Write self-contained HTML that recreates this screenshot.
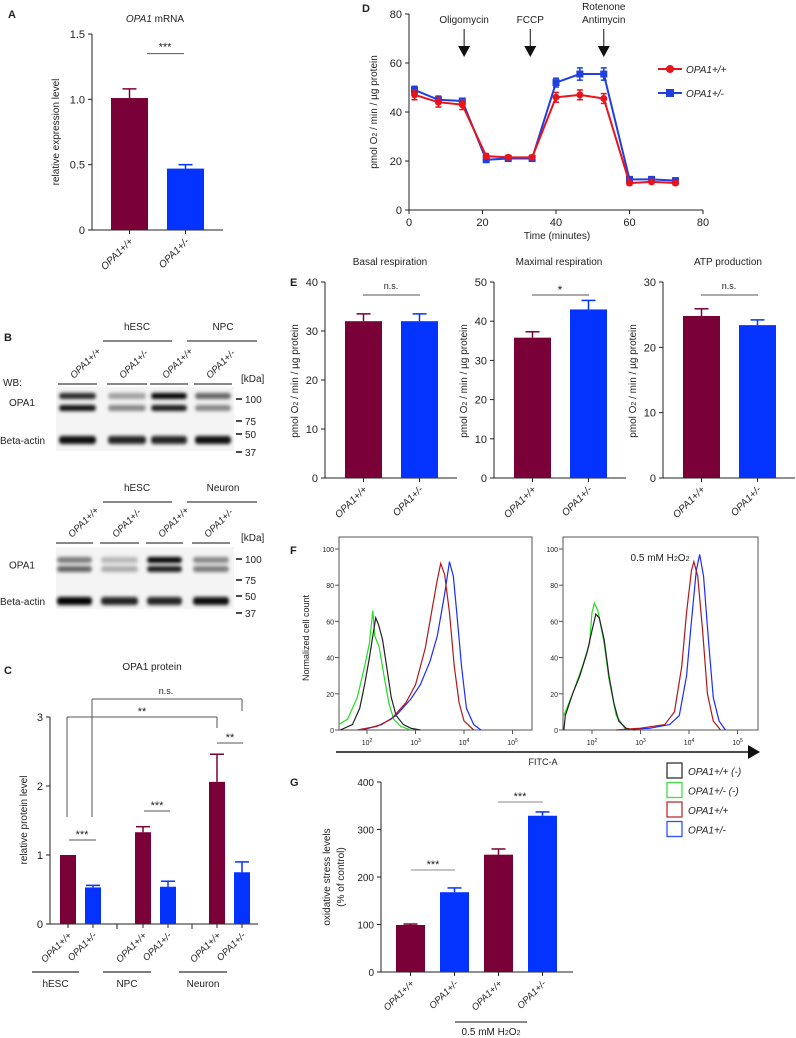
<!DOCTYPE html>
<html><head><meta charset="utf-8">
<style>
html,body{margin:0;padding:0;background:#fff;}
svg{display:block;font-family:"Liberation Sans",Arial,sans-serif;}
</style></head>
<body>
<svg id="fig" width="796" height="1038" viewBox="0 0 796 1038" xmlns="http://www.w3.org/2000/svg">
<defs>
<filter id="blur" x="-20%" y="-100%" width="140%" height="300%"><feGaussianBlur stdDeviation="1.6 1.8"/></filter>
</defs>
</svg>
<script>
// ===== DATA =====
const genoLabels = ['OPA1+/+','OPA1+/-'];
const aValues = [1.01, 0.47];
const aErrors = [0.07, 0.03];
const aTicks = [0, 0.5, 1.0, 1.5];
const aTickLabels = ['0','0.5','1.0','1.5'];

const dTime = [1.5, 8, 14.5, 21, 27, 33.5, 40, 46.5, 53, 60, 66, 72.5];
const dWT = [47, 44, 43, 22, 21.5, 21.5, 46, 47, 45.5, 11, 11.5, 11];
const dWTerr = [2, 2, 2, 1, 0.8, 0.8, 2, 2, 2, 0.8, 0.8, 0.8];
const dHet = [49, 45, 44.5, 20.5, 21, 21, 52, 55.5, 55.5, 12.5, 12.5, 12];
const dHetErr = [1.5, 1.5, 1, 1, 0.8, 0.8, 1.8, 2.5, 2.5, 0.8, 0.8, 0.8];
const dXTicks = [0, 20, 40, 60, 80];
const dYTicks = [0, 20, 40, 60, 80];

const eTitles = ['Basal respiration','Maximal respiration','ATP production'];
const eValues = [[32, 32], [35.8, 43], [24.8, 23.4]];
const eErrors = [[1.5, 1.5], [1.5, 2.3], [1.1, 0.8]];
const eMax = [40, 50, 30];
const eSig = ['n.s.', '*', 'n.s.'];

const cValues = [1.0, 0.53, 1.33, 0.54, 2.06, 0.75];
const cErrors = [0, 0.03, 0.08, 0.08, 0.40, 0.15];
const cGroups = ['hESC','NPC','Neuron'];
const cTicks = [0, 1, 2, 3];

const gValues = [99, 168, 247, 329];
const gErrors = [2, 9, 12, 8];
const gTicks = [0, 100, 200, 300, 400];

// flow cytometry histograms: [log10(FITC), normalized count]
const fLeftBlack = [[1.45,0],[1.7,3],[1.85,12],[1.95,25],[2.05,40],[2.12,52],[2.18,62],[2.24,58],[2.32,50],[2.4,36],[2.5,18],[2.6,8],[2.75,3],[2.9,1],[3.1,0]];
const fLeftGreen = [[1.42,3],[1.6,6],[1.8,18],[1.95,35],[2.05,48],[2.12,66],[2.16,52],[2.25,46],[2.35,30],[2.45,15],[2.55,6],[2.7,2],[2.9,0]];
const fLeftRed = [[1.8,0],[2.2,2],[2.5,6],[2.8,15],[3.0,25],[3.2,45],[3.35,68],[3.45,83],[3.52,92],[3.6,86],[3.7,65],[3.8,35],[3.9,15],[4.0,5],[4.2,0]];
const fLeftBlue = [[1.9,0],[2.3,3],[2.6,8],[2.9,17],[3.1,25],[3.3,38],[3.45,52],[3.6,75],[3.7,93],[3.78,85],[3.85,65],[3.95,35],[4.05,12],[4.2,3],[4.35,0]];
const fRightBlack = [[1.42,0],[1.45,8],[1.6,20],[1.75,30],[1.9,43],[2.0,55],[2.08,64],[2.15,62],[2.25,50],[2.35,30],[2.45,15],[2.55,5],[2.7,1],[2.9,0]];
const fRightGreen = [[1.42,8],[1.6,20],[1.8,35],[1.95,48],[2.0,65],[2.05,70],[2.12,66],[2.25,48],[2.35,28],[2.5,8],[2.7,0]];
const fRightRed = [[2.5,0],[3.0,1],[3.5,3],[3.7,10],[3.85,35],[3.95,65],[4.05,88],[4.1,93],[4.18,85],[4.28,55],[4.38,20],[4.5,5],[4.65,0]];
const fRightBlue = [[2.6,0],[3.2,1],[3.6,3],[3.8,8],[3.95,30],[4.05,60],[4.15,88],[4.22,97],[4.3,85],[4.4,50],[4.5,18],[4.62,5],[4.75,0]];
const fYTicks = [0, 20, 40, 60, 80, 100];
const fXDecades = [2, 3, 4, 5];

// western blot band intensities (0..1) per lane
const wb1Upper = [0.85, 0.35, 1.0, 0.6];
const wb1Lower = [0.95, 0.45, 0.9, 0.45];
const wb1Actin = [0.95, 0.85, 0.85, 0.95];
const wb2Upper = [0.5, 0.25, 1.0, 0.45];
const wb2Lower = [0.6, 0.3, 0.9, 0.5];
const wb2Actin = [1.0, 0.85, 0.85, 0.95];

const MAROON = '#7a0038', BLUE = '#0433ff', RED = '#e8141c', DBLUE = '#1f3fe0';
const svg = document.getElementById('fig');
const NS = 'http://www.w3.org/2000/svg';

function mk(tag, attrs, name, parent) {
  const el = document.createElementNS(NS, tag);
  for (const k in attrs) el.setAttribute(k, attrs[k]);
  
  
  (parent || svg).appendChild(el);
  return el;
}
function line(x1,y1,x2,y2,name,stroke,w){ return mk('line',{x1,y1,x2,y2,stroke:stroke||'#222','stroke-width':w||1},name); }
function txt(x,y,s,name,o){ o=o||{}; const a={x,y,'font-size':o.size||10,fill:o.fill||'#222','text-anchor':o.anchor||'middle'};
  if(o.italic)a['font-style']='italic'; if(o.bold)a['font-weight']='bold'; if(o.tr)a.transform=o.tr;
  const t=mk('text',a,name); t.textContent=s; return t; }
function rlabel(x,y,s,name,size,anchor){ return txt(0,0,s,name,{anchor:anchor||'end',italic:true,size:size||10,tr:`translate(${x} ${y}) rotate(-45)`}); }
function vlabel(x,y,s,name,size){ return txt(0,0,s,name,{size:size||10,tr:`translate(${x} ${y}) rotate(-90)`}); }

// generic vertical bar chart
function barChart(o){
  const ys = v => o.y0 - (v/o.max)*(o.y0-o.ytop);
  line(o.ax, o.ytop, o.ax, o.y0, o.id+'-y-axis');
  line(o.ax, o.y0, o.xend, o.y0, o.id+'-x-axis');
  o.ticks.forEach((t,i)=>{
    line(o.ax-4, ys(t), o.ax, ys(t), o.id+'-y-tick');
    txt(o.ax-7, ys(t)+4, o.tickLabels?o.tickLabels[i]:String(t), o.id+'-y-tick-label',{anchor:'end',size:o.tsize||11});
  });
  o.values.forEach((v,i)=>{
    const x=o.bx[i], w=o.bw, c=o.colors[i%o.colors.length];
    mk('rect',{x, y:ys(v), width:w, height:o.y0-ys(v), fill:c},o.id+'-bar-'+(i+1));
    const e=o.errors[i];
    if(e>0){ line(x+w/2, ys(v), x+w/2, ys(v+e), o.id+'-error-bar', c, 1.5);
      line(x+w/2-7, ys(v+e), x+w/2+7, ys(v+e), o.id+'-error-cap', c, 1.5); }
    line(x+w/2, o.y0, x+w/2, o.y0+4, o.id+'-x-tick');
    if(o.labels) rlabel(x+w/2+4, o.y0+12, o.labels[i], o.id+'-x-label', o.lsize);
  });
  return ys;
}

// ===== Panel A =====
txt(8,18,'A','panel-a-label',{bold:true,size:11,anchor:'start'});
const tA = txt(155,22,'','panel-a-title',{size:10});
tA.innerHTML = '<tspan font-style="italic">OPA1</tspan> mRNA';
const ysA = barChart({id:'a',ax:92,ytop:34,y0:230,xend:223,max:1.5,ticks:aTicks,tickLabels:aTickLabels,values:aValues,errors:aErrors,bx:[111,167],bw:37,colors:[MAROON,BLUE],labels:genoLabels});
vlabel(59,132,'relative expression level','panel-a-y-title');
line(147,ysA(1.35),184,ysA(1.35),'a-sig-line','#555');
txt(165,ysA(1.35)-3,'***','a-sig-label',{size:11});

// ===== Panel D =====
txt(362,12,'D','panel-d-label',{bold:true,size:11,anchor:'start'});
const dx = t => 409 + t/80*(703-409);
const dy = v => 210 - v/80*(210-14);
line(409,14,409,210,'d-y-axis'); line(409,210,703,210,'d-x-axis');
dYTicks.forEach(t=>{ line(405,dy(t),409,dy(t),'d-y-tick'); txt(402,dy(t)+4,String(t),'d-y-tick-label',{anchor:'end',size:11}); });
dXTicks.forEach(t=>{ line(dx(t),210,dx(t),214,'d-x-tick'); txt(dx(t),226,String(t),'d-x-tick-label',{size:11}); });
txt(557,239,'Time (minutes)','d-x-title',{size:10});
const dyl = vlabel(377,112,'','d-y-title'); dyl.innerHTML='pmol O<tspan font-size="7">2</tspan> / min / µg protein';
[[15,'Oligomycin'],[33,'FCCP']].forEach(([t,s])=>{ txt(dx(t),23,s,'d-injection-label',{size:10}); });
txt(dx(53),10,'Rotenone','d-injection-label',{size:10}); txt(dx(53),23,'Antimycin','d-injection-label',{size:10});
[15,33,53].forEach(t=>{ line(dx(t),29,dx(t),48,'d-injection-arrow-shaft','#111',1);
  mk('polygon',{points:`${dx(t)-6},46 ${dx(t)+6},46 ${dx(t)},57`,fill:'#111'},'d-injection-arrow-head'); });
function series(vals,errs,color,name,square){
  mk('polyline',{points:dTime.map((t,i)=>dx(t)+','+dy(vals[i])).join(' '),fill:'none',stroke:color,'stroke-width':2},name+'-line');
  dTime.forEach((t,i)=>{ line(dx(t),dy(vals[i]-errs[i]),dx(t),dy(vals[i]+errs[i]),name+'-error',color,1.5);
    line(dx(t)-3,dy(vals[i]+errs[i]),dx(t)+3,dy(vals[i]+errs[i]),name+'-error-cap',color,1.5);
    line(dx(t)-3,dy(vals[i]-errs[i]),dx(t)+3,dy(vals[i]-errs[i]),name+'-error-cap',color,1.5);
    if(square) mk('rect',{x:dx(t)-3.5,y:dy(vals[i])-3.5,width:7,height:7,fill:color},name+'-point');
    else mk('circle',{cx:dx(t),cy:dy(vals[i]),r:3.5,fill:color},name+'-point'); });
}
series(dHet,dHetErr,DBLUE,'d-het',true);
series(dWT,dWTerr,RED,'d-wt',false);
line(658,69,682,69,'d-legend-wt-line',RED,2); mk('circle',{cx:670,cy:69,r:4,fill:RED},'d-legend-wt-marker');
txt(686,73,'OPA1+/+','d-legend-wt-label',{anchor:'start',italic:true,size:10});
line(658,93,682,93,'d-legend-het-line',DBLUE,2); mk('rect',{x:666,y:89,width:8,height:8,fill:DBLUE},'d-legend-het-marker');
txt(686,97,'OPA1+/-','d-legend-het-label',{anchor:'start',italic:true,size:10});

// ===== Panel E =====
txt(290,286,'E','panel-e-label',{bold:true,size:11,anchor:'start'});
const eAx = [325,494,663];
eValues.forEach((vals,k)=>{
  const ax=eAx[k]; const step=10; const ticks=[]; for(let t=0;t<=eMax[k];t+=step) ticks.push(t);
  const ys = barChart({id:'e'+(k+1),ax,ytop:282,y0:478,xend:ax+132,max:eMax[k],ticks,values:vals,errors:eErrors[k],bx:[ax+20,ax+76],bw:37,colors:[MAROON,BLUE],labels:genoLabels});
  txt(ax+65,265,eTitles[k],'e'+(k+1)+'-title',{size:10});
  const vl=vlabel(ax-27,381,'','e'+(k+1)+'-y-title'); vl.innerHTML='pmol O<tspan font-size="7">2</tspan> / min / µg protein';
  line(ax+38,295,ax+95,295,'e'+(k+1)+'-sig-line','#555');
  txt(ax+66,eSig[k]==='*'?294:289,eSig[k],'e'+(k+1)+'-sig-label',{size:eSig[k]==='*'?12:9});
});

// ===== Panel B (western blots) =====
txt(4,341,'B','panel-b-label',{bold:true,size:11,anchor:'start'});
txt(3,386,'WB:','wb-label',{size:10,anchor:'start'});
function blot(o){
  txt(137,o.top,'hESC','wb-group-label',{size:10}); line(103,o.top+11,172,o.top+11,'wb-group-line','#111');
  txt(223,o.top,o.g2,'wb-group-label',{size:10}); line(187,o.top+11,257,o.top+11,'wb-group-line','#111');
  txt(241,o.laneY-2,'[kDa]','wb-kda-label',{anchor:'start',size:10});
  mk('rect',{x:56,y:o.bandTop,width:178,height:o.bandH,fill:'#f4f4f4'},'wb-membrane');
  o.lanes.forEach((l,i)=>{ const w=l[1]-l[0];
    mk('rect',{x:l[0]+1,y:o.upY-3,width:w-2,height:6,rx:3,fill:'#000','fill-opacity':o.up[i],filter:'url(#blur)'},'wb-opa1-upper-band');
    mk('rect',{x:l[0]+1,y:o.loY-3,width:w-2,height:6,rx:3,fill:'#000','fill-opacity':o.lo[i],filter:'url(#blur)'},'wb-opa1-lower-band');
    mk('rect',{x:l[0]+1,y:o.acY-4,width:w-2,height:8,rx:3,fill:'#000','fill-opacity':o.ac[i],filter:'url(#blur)'},'wb-actin-band'); });
  o.lanes.forEach((l,i)=>{
    line(l[0],o.laneY,l[1],o.laneY,'wb-lane-line','#111');
    rlabel(l[0]+16,o.laneY-5,genoLabels[i%2],'wb-lane-label',9.5,'start'); });
  txt(22,(o.upY+o.loY)/2+4,'OPA1','wb-opa1-label',{size:10});
  txt(0,o.acY+4,'Beta-actin','wb-actin-label',{size:10,anchor:'start'});
  o.markers.forEach(([y,s])=>{ line(236,y,242,y,'wb-marker-tick','#111',1.5); txt(245,y+4,s,'wb-marker-label',{anchor:'start',size:10}); });
}
blot({top:330,g2:'NPC',laneY:384,lanes:[[58,97],[107,147],[150,188],[194,232]],bandTop:387,bandH:64,upY:396,loY:408,acY:440,up:wb1Upper,lo:wb1Lower,ac:wb1Actin,markers:[[399,'100'],[421,'75'],[434,'50'],[452,'37']]});
blot({top:491,g2:'Neuron',laneY:543,lanes:[[56,93],[100,139],[146,183],[192,230]],bandTop:547,bandH:62,upY:560,loY:569,acY:601,up:wb2Upper,lo:wb2Lower,ac:wb2Actin,markers:[[559,'100'],[580,'75'],[596,'50'],[613,'37']]});

// ===== Panel C =====
txt(4,674,'C','panel-c-label',{bold:true,size:11,anchor:'start'});
txt(152,670,'OPA1 protein','c-title',{size:10});
const cBx=[60,85,135,160,209,234];
const ysC = barChart({id:'c',ax:50,ytop:717,y0:924,xend:258,max:3,ticks:cTicks,values:cValues,errors:cErrors,bx:cBx,bw:16,colors:[MAROON,BLUE],labels:[0,1,2,3,4,5].map(i=>genoLabels[i%2]),lsize:9.5});
[117,192].forEach(x=>line(x,924,x,929,'c-x-tick'));
vlabel(27,820,'relative protein level','c-y-title');
line(67,717,217,717,'c-bracket-hesc-neuron-wt','#555'); line(67,717,67,817,'c-bracket-left','#555'); line(217,717,217,728,'c-bracket-right','#555');
txt(142,715,'**','c-sig-label',{size:11});
line(92,699,242,699,'c-bracket-hesc-neuron-het','#555'); line(92,699,92,817,'c-bracket-left','#555'); line(242,699,242,711,'c-bracket-right','#555');
txt(166,694,'n.s.','c-sig-label',{size:9});
line(69,840,96,840,'c-sig-line','#555'); txt(82,838,'***','c-sig-label',{size:11});
line(144,811,170,811,'c-sig-line','#555'); txt(157,809,'***','c-sig-label',{size:11});
line(217,743,243,743,'c-sig-line','#555'); txt(230,741,'**','c-sig-label',{size:11});
[[32,79],[103,151],[179,227]].forEach((g,i)=>{ line(g[0],972,g[1],972,'c-group-line','#555',1.5); txt((g[0]+g[1])/2,987,cGroups[i],'c-group-label',{size:10}); });

// ===== Panel F =====
txt(290,554,'F','panel-f-label',{bold:true,size:11,anchor:'start'});
function histPanel(o){
  const fx = l => o.x10 + (l-2)*48.5;
  const fy = v => 730 - v/100*181;
  mk('rect',{x:o.x0,y:537,width:o.x1-o.x0,height:193,fill:'none',stroke:'#555','stroke-width':1},o.id+'-frame');
  fYTicks.forEach(t=>{ line(o.x0-4,fy(t),o.x0,fy(t),o.id+'-y-tick','#555'); txt(o.x0-5,fy(t)+3,String(t),o.id+'-y-tick-label',{anchor:'end',size:7}); });
  fXDecades.forEach(d=>{ line(fx(d),730,fx(d),734,o.id+'-x-tick','#555');
    const t=txt(fx(d),745,'','x-tick-label',{size:7}); t.innerHTML='10<tspan dy="-3" font-size="5">'+d+'</tspan>'; });
  o.curves.forEach(([pts,c,n])=>{
    mk('polyline',{points:pts.map(p=>fx(p[0])+','+fy(p[1])).join(' '),fill:'none',stroke:c,'stroke-width':1.2},o.id+'-'+n+'-histogram'); });
}
histPanel({id:'f-left',x0:339,x1:532,x10:367,curves:[[fLeftGreen,'#22dd22','het-unstained'],[fLeftBlack,'#222','wt-unstained'],[fLeftBlue,'#1a2cff','het'],[fLeftRed,'#b01818','wt']]});
histPanel({id:'f-right',x0:563,x1:758,x10:592,curves:[[fRightGreen,'#22dd22','het-unstained'],[fRightBlack,'#222','wt-unstained'],[fRightBlue,'#1a2cff','het'],[fRightRed,'#b01818','wt']]});
vlabel(309,638,'Normalized cell count','f-y-title',9);
const h2o2=txt(660,561,'','f-treatment-label',{size:10}); h2o2.innerHTML='0.5 mM H<tspan font-size="7">2</tspan>O<tspan font-size="7">2</tspan>';
line(336,752,750,752,'f-x-axis-arrow','#111',1.5);
mk('polygon',{points:'748,745 760,752 748,759',fill:'#111'},'f-x-arrow-head');
txt(543,765,'FITC-A','f-x-title',{size:9});
[['#333','OPA1+/+ (-)'],['#44dd44','OPA1+/- (-)'],['#c03030','OPA1+/+'],['#3050ff','OPA1+/-']].forEach(([c,s],i)=>{
  const y=763+i*19.5;
  mk('rect',{x:667,y,width:15,height:15,fill:'none',stroke:c,'stroke-width':1.3},'f-legend-swatch');
  txt(688,y+12,s,'f-legend-label',{anchor:'start',italic:true,size:10}); });

// ===== Panel G =====
txt(290,786,'G','panel-g-label',{bold:true,size:11,anchor:'start'});
const ysG = barChart({id:'g',ax:381,ytop:782,y0:972,xend:573,max:400,ticks:gTicks,values:gValues,errors:gErrors,bx:[396,440,484,528],bw:29,colors:[MAROON,BLUE],labels:[0,1,2,3].map(i=>genoLabels[i%2]),tsize:10,lsize:9.5});
vlabel(330,877,'oxidative stress levels','g-y-title');
vlabel(344,877,'(% of control)','g-y-title-2');
line(411,870,455,870,'g-sig-line','#888'); txt(433,868,'***','g-sig-label',{size:11});
line(498,802,543,802,'g-sig-line','#888'); txt(520,800,'***','g-sig-label',{size:11});
line(455,1022,527,1022,'g-treatment-line','#111');
const gh=txt(491,1035,'','g-treatment-label',{size:10}); gh.innerHTML='0.5 mM H<tspan font-size="7">2</tspan>O<tspan font-size="7">2</tspan>';
</script>
</body></html>
